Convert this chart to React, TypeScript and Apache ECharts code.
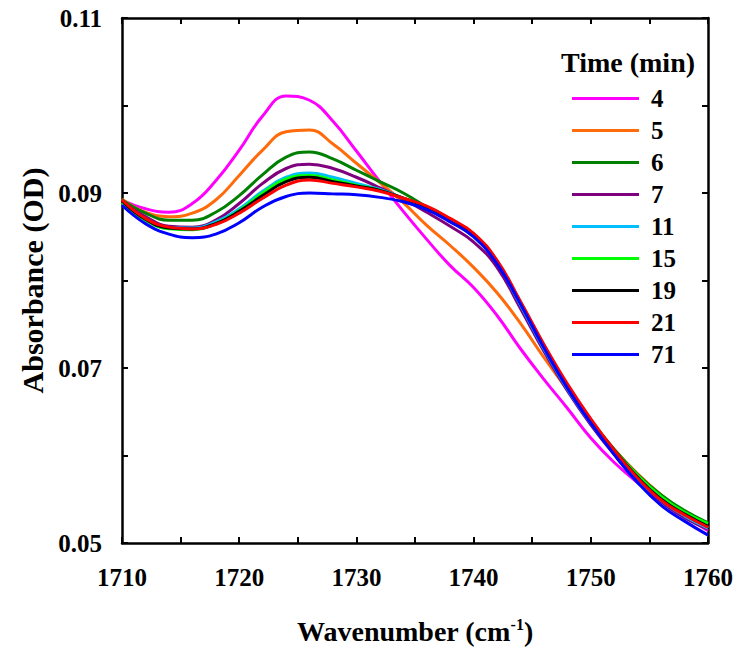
import React, { useEffect, useRef } from "react";
import * as echarts from "echarts";

const wavenumbers = [1710, 1712, 1714, 1716, 1718, 1720, 1722, 1724, 1726, 1728, 1730, 1732, 1734, 1736, 1738, 1740, 1742, 1744, 1746, 1748, 1750, 1752, 1754, 1756, 1758, 1760];

const seriesNames = ["4", "5", "6", "7", "11", "15", "19", "21", "71"];
const seriesColors = ["#FF00FF", "#FF6A0A", "#007F00", "#7F007F", "#00BFFF", "#00FF00", "#000000", "#FF0000", "#0000FF"];

const t4 = [0.0892, 0.0882, 0.0878, 0.0888, 0.0914, 0.0949, 0.0988, 0.1011, 0.1006, 0.0982, 0.0948, 0.0913, 0.0879, 0.0847, 0.0817, 0.0792, 0.0760, 0.0722, 0.0687, 0.0654, 0.0620, 0.0592, 0.0569, 0.0549, 0.0531, 0.0514];
const t5 = [0.0893, 0.0878, 0.0873, 0.0877, 0.0892, 0.0920, 0.0949, 0.0970, 0.0972, 0.0956, 0.0934, 0.0912, 0.0889, 0.0863, 0.0840, 0.0815, 0.0786, 0.0751, 0.0712, 0.0675, 0.0639, 0.0607, 0.0579, 0.0555, 0.0535, 0.0517];
const t6 = [0.0892, 0.0877, 0.0869, 0.0869, 0.0878, 0.0897, 0.0921, 0.0941, 0.0947, 0.0939, 0.0926, 0.0913, 0.0900, 0.0884, 0.0868, 0.0850, 0.0820, 0.0773, 0.0724, 0.0679, 0.0640, 0.0607, 0.0578, 0.0555, 0.0537, 0.0523];
const t7 = [0.0890, 0.0873, 0.0862, 0.0861, 0.0869, 0.0888, 0.0911, 0.0928, 0.0933, 0.0928, 0.0918, 0.0906, 0.0893, 0.0878, 0.0862, 0.0844, 0.0815, 0.0768, 0.0719, 0.0674, 0.0635, 0.0601, 0.0571, 0.0547, 0.0529, 0.0516];
const t11 = [0.0889, 0.0870, 0.0860, 0.0860, 0.0867, 0.0882, 0.0902, 0.0918, 0.0923, 0.0918, 0.0911, 0.0904, 0.0894, 0.0883, 0.0868, 0.0850, 0.0820, 0.0772, 0.0722, 0.0676, 0.0637, 0.0603, 0.0573, 0.0549, 0.0531, 0.0517];
const t15 = [0.0889, 0.0869, 0.0859, 0.0858, 0.0865, 0.0880, 0.0900, 0.0916, 0.0920, 0.0915, 0.0909, 0.0903, 0.0894, 0.0884, 0.0869, 0.0852, 0.0821, 0.0774, 0.0725, 0.0679, 0.0640, 0.0606, 0.0577, 0.0553, 0.0535, 0.0522];
const t19 = [0.0891, 0.0870, 0.0860, 0.0859, 0.0865, 0.0879, 0.0897, 0.0913, 0.0918, 0.0913, 0.0908, 0.0903, 0.0894, 0.0884, 0.0870, 0.0853, 0.0822, 0.0775, 0.0726, 0.0680, 0.0640, 0.0606, 0.0575, 0.0550, 0.0533, 0.0519];
const t21 = [0.0892, 0.0871, 0.0861, 0.0859, 0.0864, 0.0877, 0.0894, 0.0909, 0.0915, 0.0911, 0.0907, 0.0902, 0.0894, 0.0885, 0.0871, 0.0854, 0.0823, 0.0776, 0.0727, 0.0682, 0.0642, 0.0606, 0.0574, 0.0549, 0.0532, 0.0518];
const t71 = [0.0886, 0.0865, 0.0853, 0.0849, 0.0853, 0.0866, 0.0884, 0.0896, 0.0900, 0.0899, 0.0898, 0.0895, 0.0890, 0.0881, 0.0867, 0.0850, 0.0819, 0.0773, 0.0723, 0.0677, 0.0637, 0.0601, 0.0569, 0.0543, 0.0525, 0.0509];

const seriesValues = [t4, t5, t6, t7, t11, t15, t19, t21, t71];

const FONT = "Liberation Serif";

export default function App() {
  const ref = useRef<HTMLDivElement>(null);
  useEffect(() => {
    if (!ref.current) return;
    const chart = echarts.init(ref.current, null, { renderer: "svg" });
    const axisLine = { show: true, lineStyle: { color: "#000", width: 2.5 } };
    const tick = { show: true, inside: true, length: 6, lineStyle: { color: "#000", width: 2 } };
    const option: any = {
      animation: false,
      backgroundColor: "#fff",
      textStyle: { fontFamily: FONT },
      grid: { left: 122, right: 33, top: 18, bottom: 113, containLabel: false },
      xAxis: [
        {
          type: "value",
          min: 1710,
          max: 1760,
          interval: 5,
          position: "bottom",
          axisLine,
          axisTick: tick,
          splitLine: { show: false },
          axisLabel: {
            margin: 22,
            fontFamily: FONT,
            fontWeight: "bold",
            fontSize: 25,
            color: "#000",
            formatter: (v: number) => (Math.round(v) % 10 === 0 ? String(Math.round(v)) : ""),
          },
          name: "{a|Wavenumber (cm}{s|-1}{a|)}",
          nameLocation: "middle",
          nameGap: 73,
          nameTextStyle: {
            fontFamily: FONT,
            rich: {
              a: { fontFamily: FONT, fontWeight: "bold", fontSize: 28, color: "#000" },
              s: { fontFamily: FONT, fontWeight: "bold", fontSize: 16, color: "#000", verticalAlign: "top", padding: [0, 0, 14, 0] },
            },
          },
        },
        {
          type: "value",
          min: 1710,
          max: 1760,
          interval: 5,
          position: "top",
          axisLine,
          axisTick: tick,
          splitLine: { show: false },
          axisLabel: { show: false },
        },
      ],
      yAxis: [
        {
          type: "value",
          min: 0.05,
          max: 0.11,
          interval: 0.01,
          position: "left",
          axisLine,
          axisTick: tick,
          splitLine: { show: false },
          axisLabel: {
            margin: 20,
            fontFamily: FONT,
            fontWeight: "bold",
            fontSize: 25,
            color: "#000",
            formatter: (v: number) => (Math.round(v * 100) % 2 === 1 ? v.toFixed(2) : ""),
          },
          name: "Absorbance (OD)",
          nameLocation: "middle",
          nameGap: 62,
          nameTextStyle: { fontFamily: FONT, fontWeight: "bold", fontSize: 30, color: "#000" },
        },
        {
          type: "value",
          min: 0.05,
          max: 0.11,
          interval: 0.01,
          position: "right",
          axisLine,
          axisTick: tick,
          splitLine: { show: false },
          axisLabel: { show: false },
        },
      ],
      legend: {
        orient: "vertical",
        left: 572,
        top: 86,
        icon: "rect",
        itemWidth: 67,
        itemHeight: 3,
        itemGap: 7,
        padding: 0,
        data: seriesNames,
        textStyle: { fontFamily: FONT, fontWeight: "bold", fontSize: 25, lineHeight: 24, color: "#000", padding: [0, 0, 0, 7] },
      },
      graphic: [
        {
          type: "text",
          left: 561,
          top: 48,
          style: { text: "Time (min)", fontFamily: FONT, fontWeight: "bold", fontSize: 28, fill: "#000" },
        },
      ],
      series: seriesNames.map((name, i) => ({
        name,
        type: "line",
        xAxisIndex: 0,
        yAxisIndex: 0,
        data: wavenumbers.map((x, j) => [x, seriesValues[i][j]]),
        smooth: 0.45,
        showSymbol: false,
        symbol: "none",
        color: seriesColors[i],
        lineStyle: { color: seriesColors[i], width: 3 },
      })),
    };
    chart.setOption(option);
    return () => chart.dispose();
  }, []);
  return <div ref={ref} style={{ width: 741, height: 656, margin: -8 }} />;
}
